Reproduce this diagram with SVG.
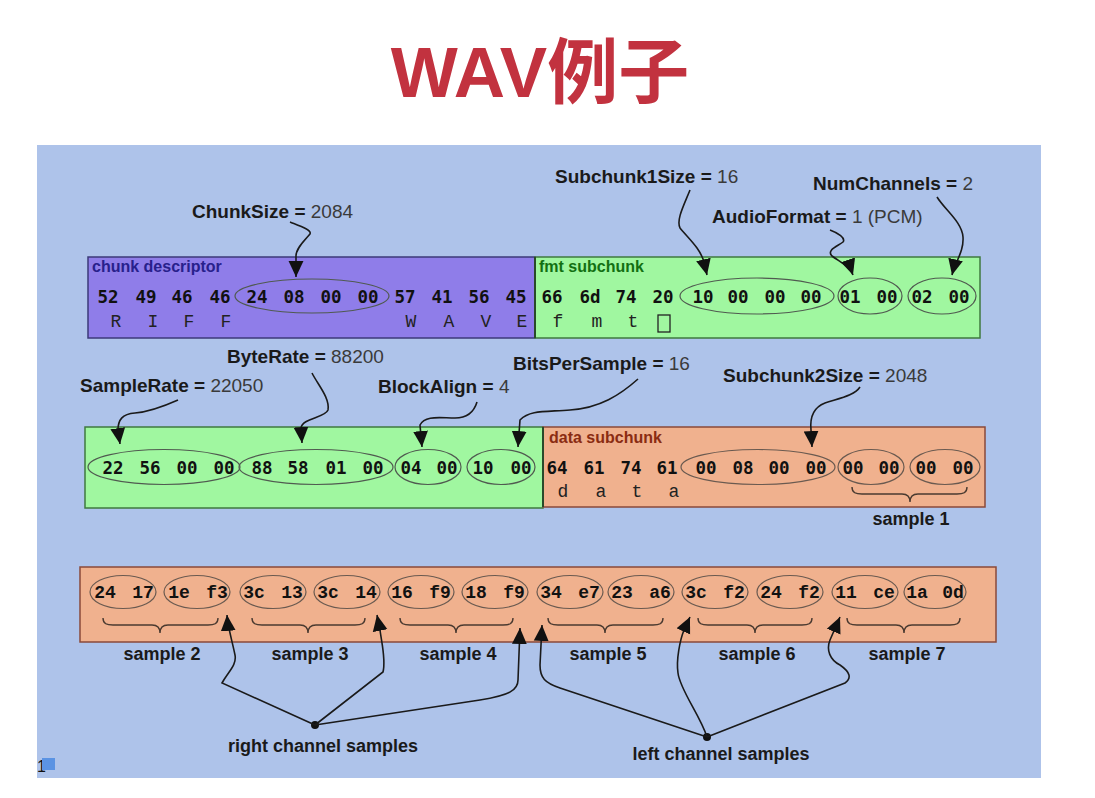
<svg xmlns="http://www.w3.org/2000/svg" width="1095" height="798" viewBox="0 0 1095 798">
<defs>
<marker id="ah" markerUnits="userSpaceOnUse" markerWidth="17" markerHeight="16" viewBox="0 0 16 14" refX="15" refY="7" orient="auto">
<path d="M0,0 L15,7 L0,14 Z" fill="#111"/>
</marker>
<style>
.lbl{font-family:"Liberation Sans",Arial,sans-serif;font-size:19px;font-weight:bold;fill:#1a1a1a}
.val{font-weight:normal;fill:#3a3a3a}
.hex{font-family:"DejaVu Sans Mono","Liberation Mono",monospace;font-size:17.5px;font-weight:bold;fill:#111;text-anchor:middle}
.hex3{font-family:"Liberation Mono","Courier New",monospace;font-size:18px;font-weight:bold;fill:#111;text-anchor:middle}
.chr{font-family:"Liberation Mono","Courier New",monospace;font-size:18px;fill:#222;text-anchor:middle}
.ttl{font-family:"Liberation Sans",Arial,sans-serif;font-size:16px;font-weight:bold}
.ell{fill:none;stroke:#505a50;stroke-width:1.2}
.ell3{fill:none;stroke:#6a5a50;stroke-width:1.2}
.arr{fill:none;stroke:#1a1a1a;stroke-width:1.6;marker-end:url(#ah)}
.brace{fill:none;stroke:#4a3a30;stroke-width:1.4}
.smp{font-family:"Liberation Sans",Arial,sans-serif;font-size:18px;font-weight:bold;fill:#1a1a1a;text-anchor:middle}
</style>
</defs>
<rect x="0" y="0" width="1095" height="798" fill="#ffffff"/>
<g id="title">
<text x="540" y="97" text-anchor="middle" font-family="Liberation Sans,'Noto Sans CJK SC',sans-serif" font-size="71" font-weight="bold" fill="#c2323f">WAV例子</text>
</g>
<g id="panel">
<rect x="37" y="145" width="1004" height="633" fill="#aec3ea"/>
<text x="37" y="772" font-family="Liberation Sans,Arial,sans-serif" font-size="16" fill="#111">1</text>
<rect x="42" y="758" width="13" height="12" fill="#5b93e3"/>
</g>

<g id="chunk-descriptor">
<rect x="88" y="257" width="447" height="81" fill="#8f7de9" stroke="#3c3a7a" stroke-width="1.5"/>
<text class="ttl" x="92" y="272" fill="#28208c">chunk descriptor</text>
<ellipse class="ell" cx="312" cy="296" rx="77" ry="17"/>
<g>
<text class="hex" x="108" y="303">52</text><text class="hex" x="146" y="303">49</text><text class="hex" x="182" y="303">46</text><text class="hex" x="220" y="303">46</text>
<text class="hex" x="257" y="303">24</text><text class="hex" x="294" y="303">08</text><text class="hex" x="331" y="303">00</text><text class="hex" x="368" y="303">00</text>
<text class="hex" x="405" y="303">57</text><text class="hex" x="442" y="303">41</text><text class="hex" x="479" y="303">56</text><text class="hex" x="516" y="303">45</text>
</g>
<g>
<text class="chr" x="116" y="327">R</text><text class="chr" x="153" y="327">I</text><text class="chr" x="189" y="327">F</text><text class="chr" x="226" y="327">F</text>
<text class="chr" x="411" y="327">W</text><text class="chr" x="449" y="327">A</text><text class="chr" x="486" y="327">V</text><text class="chr" x="522" y="327">E</text>
</g>
</g>

<g id="fmt-subchunk">
<rect x="535" y="257" width="445" height="81" fill="#a0f7a0" stroke="#3f7a3f" stroke-width="1.5"/>
<line x1="535" y1="257" x2="535" y2="338" stroke="#2a4a2a" stroke-width="2"/>
<text class="ttl" x="539" y="272" fill="#127012">fmt subchunk</text>
<ellipse class="ell" cx="757" cy="296" rx="77" ry="18"/>
<ellipse class="ell" cx="870" cy="296" rx="32" ry="18"/>
<ellipse class="ell" cx="942" cy="296" rx="34" ry="18"/>
<g>
<text class="hex" x="552" y="303">66</text><text class="hex" x="590" y="303">6d</text><text class="hex" x="626" y="303">74</text><text class="hex" x="663" y="303">20</text>
<text class="hex" x="703" y="303">10</text><text class="hex" x="738" y="303">00</text><text class="hex" x="775" y="303">00</text><text class="hex" x="811" y="303">00</text>
<text class="hex" x="850" y="303">01</text><text class="hex" x="887" y="303">00</text><text class="hex" x="922" y="303">02</text><text class="hex" x="959" y="303">00</text>
</g>
<text class="chr" x="558" y="327">f</text><text class="chr" x="597" y="327">m</text><text class="chr" x="633" y="327">t</text>
<rect x="658" y="315" width="12" height="17" fill="none" stroke="#222" stroke-width="1.3"/>
</g>

<g id="fmt-params">
<rect x="85" y="427" width="458" height="81" fill="#a0f7a0" stroke="#3f7a3f" stroke-width="1.5"/>
<ellipse class="ell" cx="164" cy="467" rx="76" ry="17.5"/>
<ellipse class="ell" cx="316" cy="467" rx="77" ry="17.5"/>
<ellipse class="ell" cx="428" cy="467" rx="33" ry="17.5"/>
<ellipse class="ell" cx="501" cy="467" rx="34" ry="17.5"/>
<g>
<text class="hex" x="113" y="474">22</text><text class="hex" x="150" y="474">56</text><text class="hex" x="187" y="474">00</text><text class="hex" x="224" y="474">00</text>
<text class="hex" x="262" y="474">88</text><text class="hex" x="298" y="474">58</text><text class="hex" x="336" y="474">01</text><text class="hex" x="373" y="474">00</text>
<text class="hex" x="411" y="474">04</text><text class="hex" x="447" y="474">00</text><text class="hex" x="483" y="474">10</text><text class="hex" x="521" y="474">00</text>
</g>
</g>

<g id="data-subchunk">
<rect x="543" y="427" width="442" height="80" fill="#f0b18e" stroke="#8a4a3a" stroke-width="1.5"/>
<line x1="543" y1="427" x2="543" y2="507" stroke="#2a4a2a" stroke-width="2"/>
<text class="ttl" x="549" y="443" fill="#8a2c12">data subchunk</text>
<ellipse class="ell3" cx="758" cy="467" rx="77" ry="17.5"/>
<ellipse class="ell3" cx="871" cy="467" rx="33" ry="17.5"/>
<ellipse class="ell3" cx="945" cy="467" rx="35" ry="17.5"/>
<g>
<text class="hex" x="557" y="474">64</text><text class="hex" x="594" y="474">61</text><text class="hex" x="631" y="474">74</text><text class="hex" x="667" y="474">61</text>
<text class="hex" x="706" y="474">00</text><text class="hex" x="743" y="474">08</text><text class="hex" x="779" y="474">00</text><text class="hex" x="816" y="474">00</text>
<text class="hex" x="853" y="474">00</text><text class="hex" x="889" y="474">00</text><text class="hex" x="926" y="474">00</text><text class="hex" x="963" y="474">00</text>
</g>
<text class="chr" x="563" y="497">d</text><text class="chr" x="601" y="497">a</text><text class="chr" x="637" y="497">t</text><text class="chr" x="674" y="497">a</text>
<path class="brace" d="M852,487 C852,493 856,494 862,494 L902,494 C907,494 910,497 910,502 C910,497 913,494 918,494 L957,494 C963,494 967,493 967,487"/>
<text class="smp" x="911" y="525">sample 1</text>
</g>

<g id="samples">
<rect x="80" y="567" width="916" height="75" fill="#f0b18e" stroke="#8a4a3a" stroke-width="1.5"/>
<g>
<ellipse class="ell3" cx="123" cy="592" rx="33" ry="16.5"/><ellipse class="ell3" cx="197" cy="592" rx="33" ry="16.5"/>
<ellipse class="ell3" cx="273" cy="592" rx="33" ry="16.5"/><ellipse class="ell3" cx="347" cy="592" rx="33" ry="16.5"/>
<ellipse class="ell3" cx="421" cy="592" rx="33" ry="16.5"/><ellipse class="ell3" cx="495" cy="592" rx="33" ry="16.5"/>
<ellipse class="ell3" cx="570" cy="592" rx="33" ry="16.5"/><ellipse class="ell3" cx="641" cy="592" rx="33" ry="16.5"/>
<ellipse class="ell3" cx="715" cy="592" rx="33" ry="16.5"/><ellipse class="ell3" cx="790" cy="592" rx="33" ry="16.5"/>
<ellipse class="ell3" cx="865" cy="592" rx="33" ry="16.5"/><ellipse class="ell3" cx="935" cy="592" rx="31" ry="16.5"/>
</g>
<g>
<text class="hex3" x="105" y="598">24</text><text class="hex3" x="143" y="598">17</text>
<text class="hex3" x="179" y="598">1e</text><text class="hex3" x="217" y="598">f3</text>
<text class="hex3" x="254" y="598">3c</text><text class="hex3" x="292" y="598">13</text>
<text class="hex3" x="328" y="598">3c</text><text class="hex3" x="366" y="598">14</text>
<text class="hex3" x="402" y="598">16</text><text class="hex3" x="440" y="598">f9</text>
<text class="hex3" x="476" y="598">18</text><text class="hex3" x="514" y="598">f9</text>
<text class="hex3" x="551" y="598">34</text><text class="hex3" x="589" y="598">e7</text>
<text class="hex3" x="622" y="598">23</text><text class="hex3" x="660" y="598">a6</text>
<text class="hex3" x="696" y="598">3c</text><text class="hex3" x="734" y="598">f2</text>
<text class="hex3" x="771" y="598">24</text><text class="hex3" x="809" y="598">f2</text>
<text class="hex3" x="846" y="598">11</text><text class="hex3" x="884" y="598">ce</text>
<text class="hex3" x="917" y="598">1a</text><text class="hex3" x="953" y="598">0d</text>
</g>
<g>
<path class="brace" d="M103,618 C103,624 107,625 113,625 L152,625 C157,625 160,628 160,633 C160,628 163,625 168,625 L208,625 C214,625 218,624 218,618"/>
<path class="brace" d="M252,618 C252,624 256,625 262,625 L300,625 C305,625 308,628 308,633 C308,628 311,625 316,625 L355,625 C361,625 365,624 365,618"/>
<path class="brace" d="M400,618 C400,624 404,625 410,625 L448,625 C453,625 456,628 456,633 C456,628 459,625 464,625 L503,625 C509,625 513,624 513,618"/>
<path class="brace" d="M548,618 C548,624 552,625 558,625 L597,625 C602,625 605,628 605,633 C605,628 608,625 613,625 L653,625 C659,625 663,624 663,618"/>
<path class="brace" d="M698,618 C698,624 702,625 708,625 L747,625 C752,625 755,628 755,633 C755,628 758,625 763,625 L802,625 C808,625 812,624 812,618"/>
<path class="brace" d="M847,618 C847,624 851,625 857,625 L896,625 C901,625 904,628 904,633 C904,628 907,625 912,625 L950,625 C956,625 960,624 960,618"/>
</g>
<text class="smp" x="162" y="660">sample 2</text>
<text class="smp" x="310" y="660">sample 3</text>
<text class="smp" x="458" y="660">sample 4</text>
<text class="smp" x="608" y="660">sample 5</text>
<text class="smp" x="757" y="660">sample 6</text>
<text class="smp" x="907" y="660">sample 7</text>
</g>

<g id="labels">
<text class="lbl" x="192" y="218">ChunkSize = <tspan class="val">2084</tspan></text>
<text class="lbl" x="555" y="183">Subchunk1Size = <tspan class="val">16</tspan></text>
<text class="lbl" x="813" y="190">NumChannels = <tspan class="val">2</tspan></text>
<text class="lbl" x="712" y="223">AudioFormat = <tspan class="val">1 (PCM)</tspan></text>
<text class="lbl" x="80" y="392">SampleRate = <tspan class="val">22050</tspan></text>
<text class="lbl" x="227" y="363">ByteRate = <tspan class="val">88200</tspan></text>
<text class="lbl" x="378" y="393">BlockAlign = <tspan class="val">4</tspan></text>
<text class="lbl" x="513" y="370">BitsPerSample = <tspan class="val">16</tspan></text>
<text class="lbl" x="723" y="382">Subchunk2Size = <tspan class="val">2048</tspan></text>
<text class="smp" x="323" y="752">right channel samples</text>
<text class="smp" x="721" y="760">left channel samples</text>
</g>

<g id="connectors">
<path class="arr" d="M290,222 C300,226 312,230 310,234 C305,240 296,248 296,256 L296,277"/>
<path class="arr" d="M690,190 C684,205 676,220 680,228 C688,238 700,248 704,262 L707,275"/>
<path class="arr" d="M830,230 C838,233 846,238 843,242 C838,246 826,250 832,256 C840,262 850,266 853,275"/>
<path class="arr" d="M937,197 C945,210 962,222 963,237 C964,252 955,262 952,275"/>
<path class="arr" d="M178,400 C160,408 148,412 135,413 C122,414 118,420 118,430 L120,444"/>
<path class="arr" d="M312,373 C318,385 330,398 328,410 C325,418 302,418 301,428 L302,443"/>
<path class="arr" d="M477,402 C474,412 468,418 455,418 C440,418 425,415 420,425 L422,447"/>
<path class="arr" d="M638,379 C620,395 600,408 570,410 C545,412 530,410 520,420 L518,447"/>
<path class="arr" d="M860,387 C855,395 840,398 825,403 C812,408 810,420 811,430 L812,447"/>
<circle cx="315" cy="725" r="4" fill="#111"/>
<circle cx="707" cy="737" r="4" fill="#111"/>
<path class="arr" d="M315,725 L222,683 C228,672 237,665 235,655 C232,640 228,628 227,615"/>
<path class="arr" d="M315,725 L383,672 C386,660 382,645 380,630 L377,615"/>
<path class="arr" d="M315,725 L480,700 C510,695 518,690 518,680 L520,628"/>
<path class="arr" d="M707,737 L560,688 C545,683 540,678 540,665 L542,625"/>
<path class="arr" d="M707,737 C700,715 680,690 678,673 C676,660 680,640 684,630 L690,617"/>
<path class="arr" d="M707,737 L845,683 C852,678 850,672 840,665 C830,660 826,650 830,640 L840,617"/>
</g>
</svg>
